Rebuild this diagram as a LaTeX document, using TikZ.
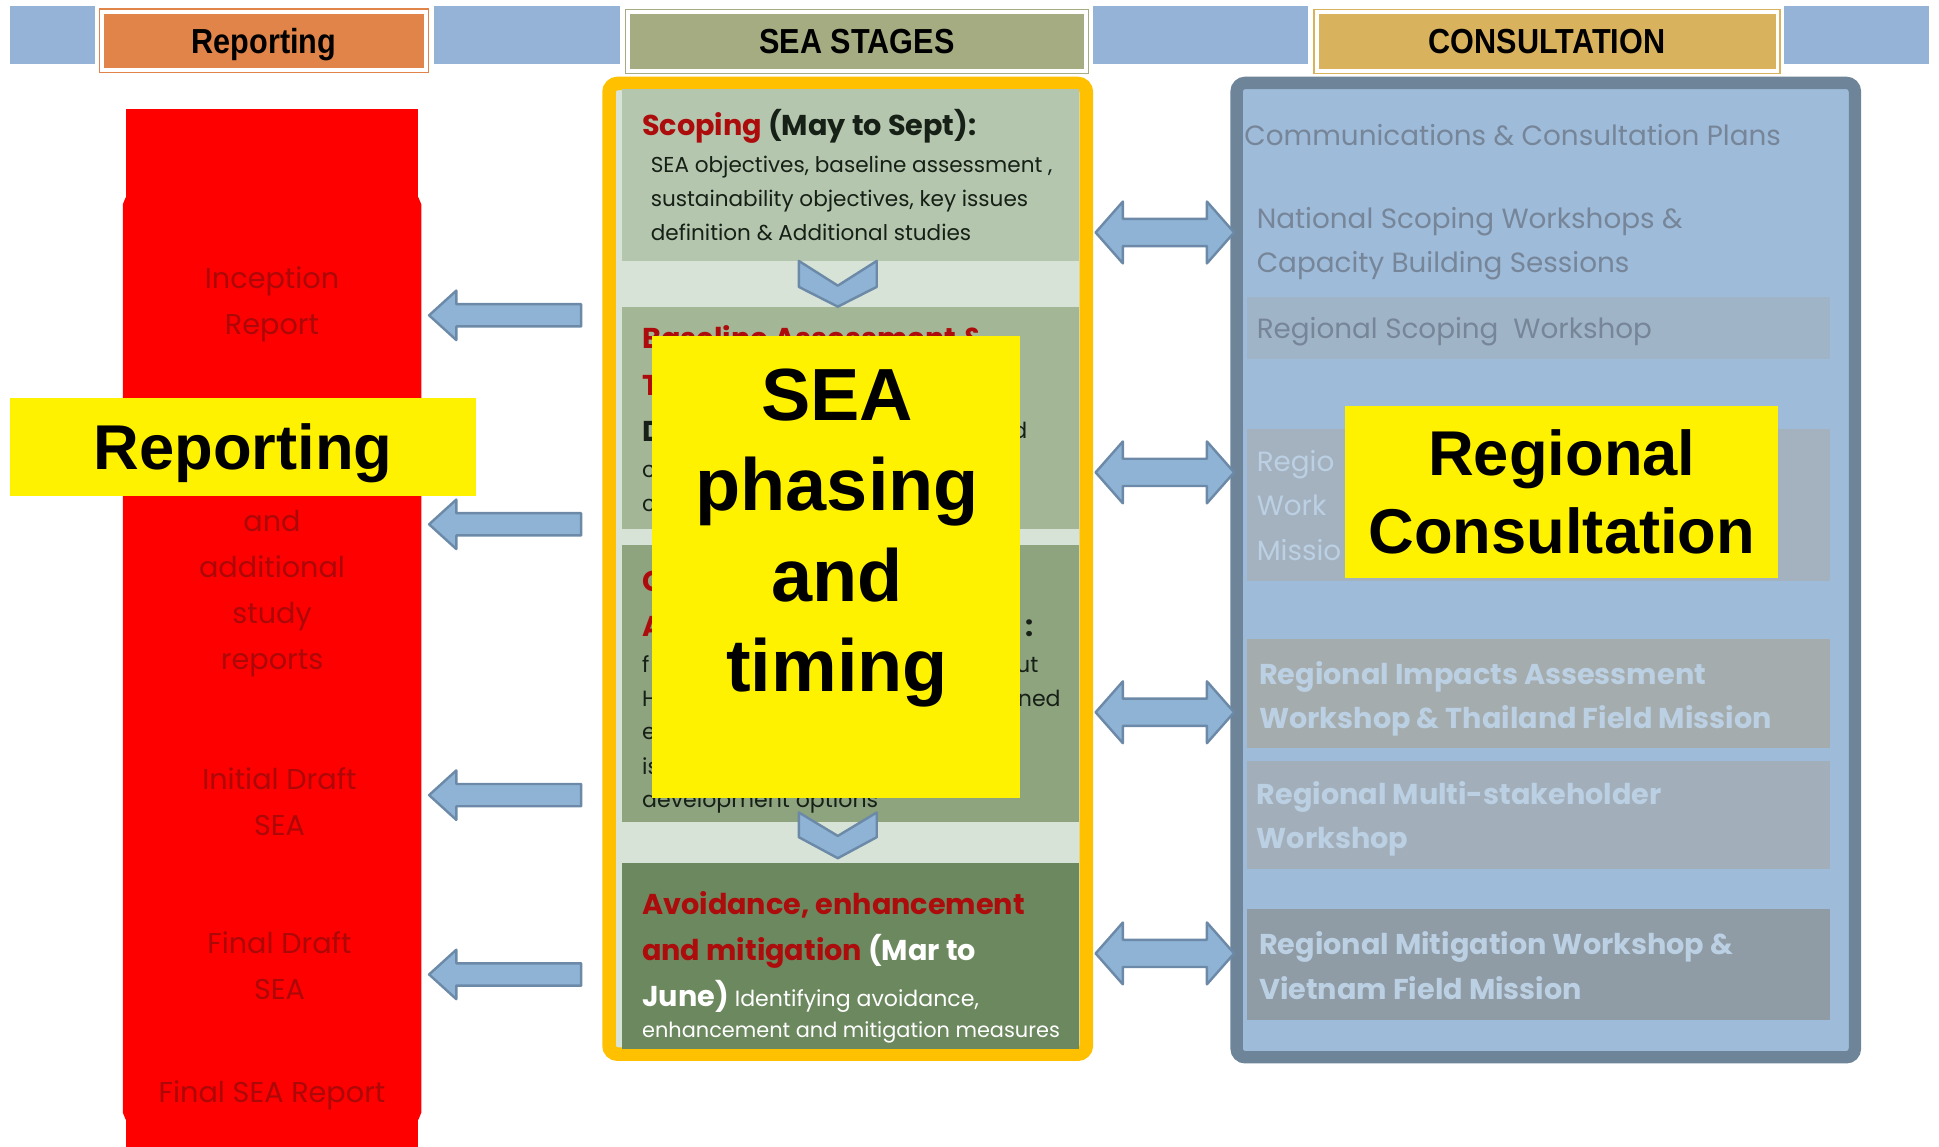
\documentclass[tikz,border=0pt]{standalone}
\usepackage{fontspec}
\setmainfont{Poppins}
\newfontfamily\arialfont{Liberation Sans}
\newfontfamily\headfont{Liberation Sans}[FakeStretch=0.88]
\usetikzlibrary{positioning}
\definecolor{hdrblue}{RGB}{149,179,215}
\definecolor{reporange}{RGB}{224,132,74}
\definecolor{seaolive}{RGB}{166,172,130}
\definecolor{consgold}{RGB}{217,178,94}
\definecolor{repred}{RGB}{172,8,8}
\definecolor{seaframe}{RGB}{255,192,0}
\definecolor{consframe}{RGB}{109,132,153}
\definecolor{consfill}{RGB}{158,187,218}
\definecolor{arrowblue}{RGB}{142,179,212}
\definecolor{arrowedge}{RGB}{108,138,168}
\definecolor{stagegap}{RGB}{214,227,214}
\definecolor{stageA}{RGB}{180,198,174}
\definecolor{stageB}{RGB}{163,183,150}
\definecolor{stageC}{RGB}{142,164,127}
\definecolor{stageD}{RGB}{108,136,94}
\definecolor{stagered}{RGB}{172,12,12}
\definecolor{darkink}{RGB}{22,32,22}
\definecolor{greyink}{RGB}{118,134,152}
\definecolor{paleink}{RGB}{188,208,228}
\definecolor{bandA}{RGB}{160,180,200}
\definecolor{bandB}{RGB}{164,178,192}
\definecolor{bandC}{RGB}{164,172,174}
\definecolor{bandD}{RGB}{162,175,186}
\definecolor{bandE}{RGB}{143,155,165}
\begin{document}
\begin{tikzpicture}[x=0.025cm,y=-0.025cm,
 hdr/.style={line width=0.8pt, double=white, double distance=2.2pt, inner sep=0pt,
  text height=14.3pt, text depth=0pt, font=\headfont\bfseries\fontsize{20}{24}\selectfont},
 blk/.style={draw = arrowedge, fill = arrowblue, line width=1.4pt, line join=round},
 tag/.style={fill = yellow, inner sep=0pt, align=center, font=\arialfont\bfseries},
 repl/.style={text = repred, align=center, inner sep=0pt, font=\fontsize{16.5}{26.3}\selectfont},
 stagehead/.style={anchor=north west, align=left, inner sep=0pt, font=\bfseries\fontsize{16.5}{26.3}\selectfont},
 stagebody/.style={anchor=north west, align=left, inner sep=0pt, font=\fontsize{12.4}{19.5}\selectfont},
 bit/.style={anchor=base west, inner sep=0pt, text = darkink, font=\fontsize{12.7}{15}\selectfont},
 bitb/.style={anchor=base west, inner sep=0pt, text = stagered, font=\bfseries\fontsize{16.5}{20}\selectfont},
 consl/.style={anchor=west, align=left, inner sep=0pt, text = greyink, font=\fontsize{16}{25.6}\selectfont},
 consb/.style={anchor=west, align=left, inner sep=0pt, text = paleink, font=\bfseries\fontsize{16.5}{25.6}\selectfont}]
\useasboundingbox (0,0) rectangle (1568,927.5);
\fill[hdrblue] (8,5) rectangle (1560,52);
\foreach \a/\b in {77/351,501/884,1058/1443}{
\fill[white] (\a,5) rectangle (\b,52);};
\node[hdr, draw = reporange, fill = reporange, minimum width=186pt, minimum height=33.5pt] (hreport) at (213.5,33) {Reporting};
\node[hdr, draw = seaolive, fill = seaolive, minimum width=263pt, minimum height=34pt] (hstages) at (693,33.5) {SEA STAGES};
\node[hdr, draw = consgold, fill = consgold, minimum width=265pt, minimum height=34pt] (hconsult) at (1251,33.5) {CONSULTATION};
\fill[red] (102,88) rectangle (338,928);
\draw[red, line width=6.7pt, fill = red, rounded corners=3pt] (104,162) rectangle (336,903);
\node[repl] (inception) at (220,246) {Inception\\Report};
\node[repl] (studyrep) at (220,480) {and\\additional\\study\\reports};
\node[repl] (initdraft) at (226,648) {Initial Draft\\SEA};
\node[repl] (finaldraft) at (226,781) {Final Draft\\SEA};
\node[repl] (finalrep) at (220,886) {Final SEA Report};
\draw[seaframe, line width=7.8pt, fill = stagegap, rounded corners=5pt] (492.5,67.5) rectangle (878.5,852.5);
\node[fill = stageA, minimum width=263pt, minimum height=98.8pt, inner sep=0pt] (scoping) at (688,141.5) {};
\node[fill = stageB, minimum width=263pt, minimum height=128pt, inner sep=0pt] (baseline) at (688,338) {};
\node[fill = stageC, minimum width=263pt, minimum height=159.3pt, inner sep=0pt] (impacts) at (688,553) {};
\node[fill = stageD, minimum width=263pt, minimum height=106.6pt, inner sep=0pt] (avoid) at (688,773) {};
\foreach \t/\m/\b in {211/231/248,657/676/694}{
\draw[blk] (646,\t) -- (677.5,\m) -- (709,\t) -- (709,\m+1) -- (677.5,\b) -- (646,\m+1) -- cycle;};
\node[stagehead] (scopehead) at (519,88) {\color{stagered}Scoping \color{darkink}(May to Sept):};
\node[stagebody, text = darkink] (scopebody) at (526,126) {SEA objectives, baseline assessment ,\\sustainability objectives, key issues\\definition \& Additional studies};
\node[bitb] (basehead) at (519,282) {Baseline Assessment \&};
\node[bitb] (baseT) at (519,320) {T};
\node[bitb, text = darkink] (baseD) at (519,357) {D};
\node[bit, anchor=base east] (based) at (831,355) {d};
\node[bit] (basec) at (519,386) {c};
\node[bit] (basecc) at (519,414) {c};
\node[bitb] (impC) at (519,478) {C};
\node[bitb] (impA) at (519,515) {A};
\node[bitb, text = darkink, anchor=base east] (impcolon) at (836,515) {:};
\node[bit] (impf) at (519,544) {f};
\node[bit, anchor=base east] (imput) at (840,544) {ut};
\node[bit] (impH) at (519,571) {H};
\node[bit, anchor=base east] (impned) at (858,571) {ned};
\node[bit] (impe) at (519,598) {e};
\node[bit] (impis) at (519,626) {is};
\node[bit] (impdev) at (519,653) {development options};
\node[stagehead] (avoidhead) at (519,721) {\color{stagered}Avoidance, enhancement\\\color{stagered}and mitigation \color{white}(Mar to\\\color{white}June) {\mdseries\fontsize{12.7}{19.5}\selectfont Identifying avoidance,}};
\node[stagebody, text = white, font=\fontsize{12}{19.5}\selectfont] (avoidbody) at (519,826) {enhancement and mitigation measures};
\draw[consframe, line width=7.1pt, fill = consfill, rounded corners=5pt] (1000,67) rectangle (1500,855);
\fill[bandA] (1008,240) rectangle (1480,290);
\fill[bandB] (1008,347) rectangle (1480,470);
\fill[bandC] (1008,517) rectangle (1480,605);
\fill[bandD] (1008,615) rectangle (1480,703);
\fill[bandE] (1008,735) rectangle (1480,825);
\node[consl] (commplan) at (1006,109) {Communications \& Consultation Plans};
\node[consl] (natscope) at (1016,197) {National Scoping Workshops \&\\Capacity Building Sessions};
\node[consl] (regscope) at (1016,268) {Regional Scoping\ \ Workshop};
\node[consl, text = paleink, anchor=base west] (regbase) at (1016,381) {Regio};
\node[consl, text = paleink, anchor=base west] (regwork) at (1016,417) {Work};
\node[consl, text = paleink, anchor=base west] (regmiss) at (1016,453) {Missio};
\node[consb] (regimpact) at (1018,565) {Regional Impacts Assessment\\Workshop \& Thailand Field Mission};
\node[consb] (regmulti) at (1016,662) {Regional Multi-stakeholder\\Workshop};
\node[consb] (regmitig) at (1018,781) {Regional Mitigation Workshop \&\\Vietnam Field Mission};
\foreach \y in {255,424,643,788}{
\draw[blk] (347,\y) -- (369,\y-20) -- (369,\y-9) -- (470,\y-9) -- (470,\y+9) -- (369,\y+9) -- (369,\y+20) -- cycle;};
\foreach \y in {188,382,576,771}{
\draw[blk] (886,\y) -- (908,\y-25) -- (908,\y-11) -- (976,\y-11) -- (976,\y-25) -- (998,\y) -- (976,\y+25) -- (976,\y+11) -- (908,\y+11) -- (908,\y+25) -- cycle;};
\node[tag, minimum width=268pt, minimum height=56.2pt, text height=26pt, text depth=0pt, font=\arialfont\bfseries\fontsize{36.4}{44}\selectfont] (reptag) at (196.5,361.5) {Reporting};
\node[tag, minimum width=211.9pt, minimum height=265.2pt] (seatag) at (676,458.5) {};
\node[tag, fill = none, font=\arialfont\bfseries\fontsize{42.5}{52}\selectfont] (seatext) at (677,435) {SEA\\phasing\\and\\timing};
\node[tag, minimum width=248.9pt, minimum height=98.8pt, font=\arialfont\bfseries\fontsize{36.4}{45}\selectfont] (constag) at (1263,398) {Regional\\Consultation};
\end{tikzpicture}
\end{document}
